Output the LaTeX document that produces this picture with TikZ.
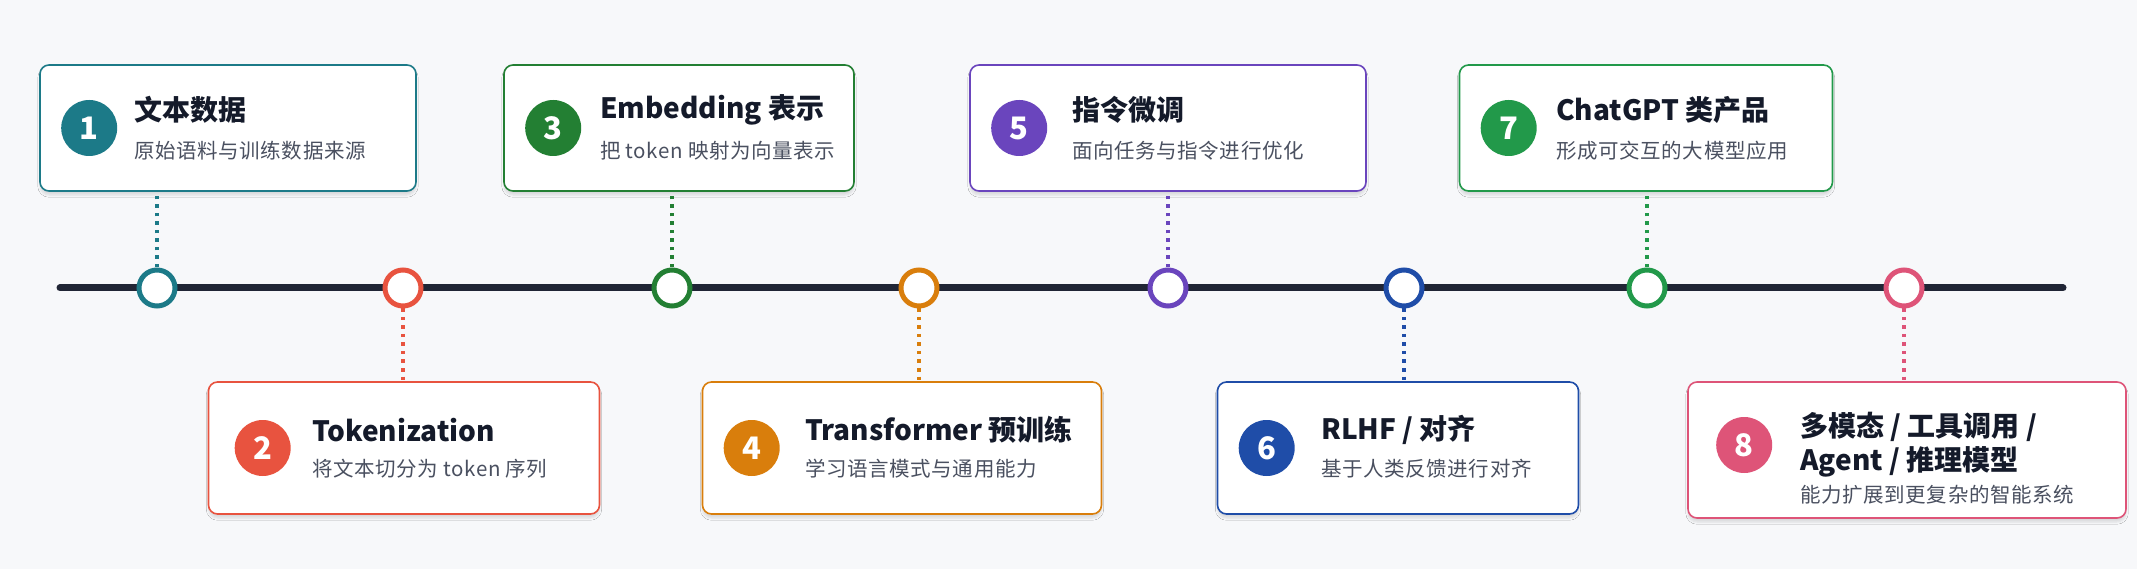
\documentclass[tikz,border=0pt]{standalone}
\usepackage{fontspec}
\setmainfont{Noto Sans CJK SC}
\usetikzlibrary{shadows.blur}
\definecolor{bg}{HTML}{F7F8FA}
\definecolor{ink}{HTML}{141A2A}
\definecolor{sub}{HTML}{4A5060}
\definecolor{cA}{HTML}{1C7A88}
\definecolor{cB}{HTML}{E8533F}
\definecolor{cC}{HTML}{237F33}
\definecolor{cD}{HTML}{D97E0C}
\definecolor{cE}{HTML}{6A45BD}
\definecolor{cF}{HTML}{1F4DA8}
\definecolor{cG}{HTML}{22994A}
\definecolor{cH}{HTML}{DE5478}
\tikzset{x=1pt,y=-1pt,
 card/.style={draw=#1,line width=1.6pt,fill=white,rounded corners=9pt,blur shadow={shadow blur steps=6,shadow xshift=0pt,shadow yshift=-4pt,shadow opacity=12}},
 badge/.style={circle,fill=#1,minimum size=56pt,inner sep=0pt,text=white,font=\bfseries\fontsize{31}{31}\selectfont},
 ttl/.style={anchor=west,text=ink,font=\bfseries\fontsize{28}{34}\selectfont,align=left,inner sep=0pt},
 stl/.style={anchor=west,text=sub,font=\addfontfeature{LetterSpace=3}\fontsize{20.5}{24}\selectfont,inner sep=0pt},
 dot/.style={circle,draw=#1,line width=5pt,fill=white,minimum size=36pt,inner sep=0pt},
 conn/.style={draw=#1,line width=3.5pt,dash pattern=on 3.5pt off 5pt},
}
\begin{document}
\begin{tikzpicture}
\path[fill=bg] (0,0) rectangle (2137,569);
\useasboundingbox (0,0) rectangle (2137,569);
% timeline
\coordinate (L0) at (60,288);
\coordinate (L1) at (2063,288);
\draw[ink!95,line width=7pt,line cap=round] (L0) -- (L1);
% top boxes
\node[card=cA,minimum width=376pt,minimum height=126pt] (b1) at (228,128) {};
\node[card=cC,minimum width=350pt,minimum height=126pt] (b3) at (679,128) {};
\node[card=cE,minimum width=396pt,minimum height=126pt] (b5) at (1168,128) {};
\node[card=cG,minimum width=373pt,minimum height=126pt] (b7) at (1646,128) {};
% bottom boxes
\node[card=cB,minimum width=391pt,minimum height=132pt] (b2) at (404,448) {};
\node[card=cD,minimum width=399pt,minimum height=132pt] (b4) at (902,448) {};
\node[card=cF,minimum width=361pt,minimum height=132pt] (b6) at (1398,448) {};
\node[card=cH,minimum width=438pt,minimum height=136pt] (b8) at (1907,450) {};
% badges
\node[badge=cA] (n1) at ([xshift=50pt]b1.west) {1};
\node[badge=cC] (n3) at ([xshift=50pt]b3.west) {3};
\node[badge=cE] (n5) at ([xshift=50pt]b5.west) {5};
\node[badge=cG] (n7) at ([xshift=50pt]b7.west) {7};
\node[badge=cB] (n2) at ([xshift=55pt]b2.west) {2};
\node[badge=cD] (n4) at ([xshift=50pt]b4.west) {4};
\node[badge=cF] (n6) at ([xshift=50pt]b6.west) {6};
\node[badge=cH] (n8) at ([xshift=57pt,yshift=5pt]b8.west) {8};
% texts
\node[ttl] (t1) at (134,110) {文本数据};
\node[stl] (s1) at (134,151) {原始语料与训练数据来源};
\node[ttl] (t3) at (600,110) {Embedding 表示};
\node[stl] (s3) at (600,151) {把 token 映射为向量表示};
\node[ttl] (t5) at (1072,110) {指令微调};
\node[stl] (s5) at (1072,151) {面向任务与指令进行优化};
\node[ttl] (t7) at (1556,110) {ChatGPT 类产品};
\node[stl] (s7) at (1556,151) {形成可交互的大模型应用};
\node[ttl] (t2) at (312,430) {Tokenization};
\node[stl] (s2) at (312,469) {将文本切分为 token 序列};
\node[ttl] (t4) at (805,430) {Transformer 预训练};
\node[stl] (s4) at (805,469) {学习语言模式与通用能力};
\node[ttl] (t6) at (1321,430) {RLHF / 对齐};
\node[stl] (s6) at (1321,469) {基于人类反馈进行对齐};
\node[ttl] (t8) at (1800,445) {多模态 / 工具调用 /\\Agent / 推理模型};
\node[stl] (s8) at (1800,495) {能力扩展到更复杂的智能系统};
% timeline dots
\node[dot=cA] (c1) at (157,288) {};
\node[dot=cB] (c2) at (403,288) {};
\node[dot=cC] (c3) at (672,288) {};
\node[dot=cD] (c4) at (919,288) {};
\node[dot=cE] (c5) at (1168,288) {};
\node[dot=cF] (c6) at (1404,288) {};
\node[dot=cG] (c7) at (1647,288) {};
\node[dot=cH] (c8) at (1904,288) {};
% connectors
\draw[conn=cA] (c1.north) -- (c1.north |- b1.south);
\draw[conn=cC] (c3.north) -- (c3.north |- b3.south);
\draw[conn=cE] (c5.north) -- (c5.north |- b5.south);
\draw[conn=cG] (c7.north) -- (c7.north |- b7.south);
\draw[conn=cB] (c2.south) -- (c2.south |- b2.north);
\draw[conn=cD] (c4.south) -- (c4.south |- b4.north);
\draw[conn=cF] (c6.south) -- (c6.south |- b6.north);
\draw[conn=cH] (c8.south) -- (c8.south |- b8.north);
\end{tikzpicture}
\end{document}
